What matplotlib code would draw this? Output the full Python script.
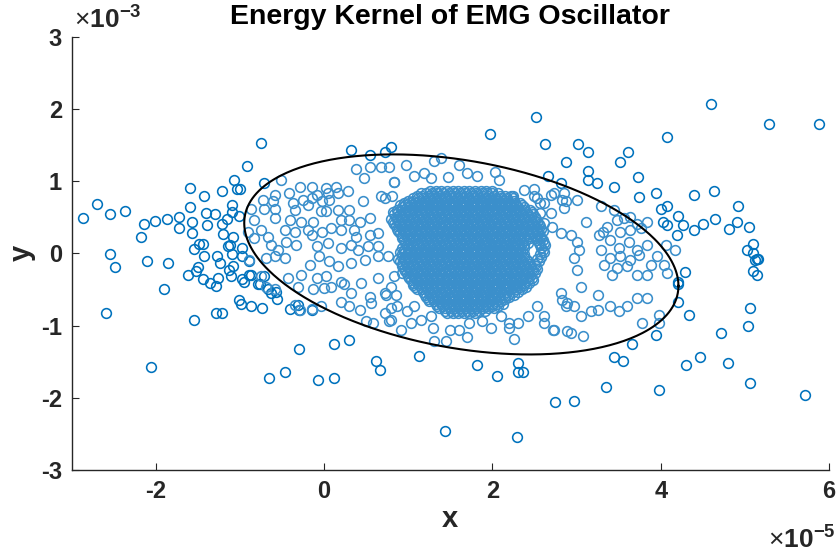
import numpy as np
import matplotlib
matplotlib.use("Agg")
import matplotlib.pyplot as plt

plt.rcParams['font.family'] = ['Liberation Sans', 'DejaVu Sans']
plt.rcParams['mathtext.fontset'] = 'custom'
plt.rcParams['mathtext.rm'] = 'Liberation Sans'
plt.rcParams['mathtext.bf'] = 'Liberation Sans:bold'

XS = 1e-5  # x unit
YS = 1e-3  # y unit

# ---- outlying points (dark blue), x in 1e-5, y in 1e-3 ----
outer_x = [-0.75, -0.92, -1.07, -0.72, -1.60, -1.43, -1.21, -1.04, -1.00, -2.70, -2.87, -2.55, -2.37, -2.14, -2.01,
           -1.87, -1.72, -1.72, -1.57, -1.57, -1.60, -1.40, -1.30, -1.39, -1.22, -1.16, -1.09, -1.09, -1.01, -1.20,
           -1.08, -2.18, -2.55, -2.48, -2.11, -1.86, -1.55, -1.49, -1.44, -1.43, -1.27, -1.24, -1.14, -1.12, -1.09,
           -0.98, -0.98, -0.89, -1.62, -1.52, -1.50, -1.44, -1.36, -1.28, -1.26, -1.13, -1.11, -1.08, -0.98, -0.95,
           -0.89, -0.87, -0.79, -0.76, -0.67, -0.63, -0.57, -0.56, -0.71, -1.90, -2.59, -1.55, -1.29, -1.22, -1.01,
           -0.99, -0.87, -0.74, -0.41, -0.31, -0.30, -0.15, -0.30, 0.12, -2.06, -0.66, -0.46, -0.07, 0.12, 0.29,
           0.62, 0.66, 1.13, 1.82, 2.05, 2.30, 2.30, 2.36, 2.74, 2.97, 1.44, 2.29,
           1.97, 2.52, 4.60, 5.29, 5.88, 0.32, 0.54, 0.72, 0.79, 2.62, 3.02, 3.14, 2.87, 3.13, 3.13, 3.24, 2.66,
           4.07, 3.61, 3.52, 3.73, 3.44, 3.74, 3.94, 4.39, 4.63, 4.92, 4.00, 4.08, 4.21, 4.03, 4.08, 4.27, 4.39,
           4.50, 4.65, 4.81, 4.91, 5.05, 4.19, 5.10, 5.03, 5.10, 5.14, 5.16, 5.12, 5.10, 5.14, 4.29, 4.21, 4.21,
           4.20, 4.34, 5.06, 5.04, 4.71, 3.66, 3.45, 3.55, 4.47, 4.30, 4.80, 5.06, 3.35, 3.98, 5.72, 2.81, 3.94]
outer_y = [1.53, 1.21, 1.01, 0.97, 0.91, 0.80, 0.86, 0.89, 0.89, 0.69, 0.49, 0.54, 0.59, 0.41, 0.45,
           0.47, 0.50, 0.35, 0.43, 0.28, 0.64, 0.56, 0.55, 0.39, 0.40, 0.47, 0.67, 0.57, 0.52, 0.27,
           0.22, 0.22, -0.01, -0.19, -0.10, -0.13, 0.06, 0.13, 0.13, -0.03, -0.03, -0.13, 0.10, 0.12, -0.01,
           0.07, -0.04, -0.11, -0.30, -0.25, -0.19, -0.35, -0.41, -0.45, -0.34, -0.23, -0.32, -0.17, -0.36, -0.40,
           -0.30, -0.30, -0.42, -0.42, -0.49, -0.55, -0.53, -0.63, -0.32, -0.49, -0.83, -0.92, -0.82, -0.83, -0.64,
           -0.70, -0.73, -0.76, -0.77, -0.71, -0.78, -0.78, -1.32, -1.26, -1.57, -1.72, -1.65, -1.75, -1.72, -1.20,
           -1.49, -1.61, -1.42, -1.55, -1.70, -1.52, -1.64, -1.64, -2.06, -2.05, -2.46, -2.55,
           1.65, 1.89, 2.07, 1.79, 1.79, 1.43, 1.36, 1.41, 1.47, 1.52, 1.52, 1.40, 1.27, 1.14, 1.01, 0.97, 1.07,
           1.61, 1.40, 1.26, 1.06, 0.92, 0.78, 0.83, 0.81, 0.87, 0.65, 0.61, 0.65, 0.52, 0.44, 0.39, 0.39, 0.32,
           0.41, 0.47, 0.34, 0.44, 0.36, 0.25, 0.13, 0.05, 0.00, -0.08, -0.08, -0.09, -0.24, -0.30, -0.26, -0.39, -0.42,
           -0.68, -0.85, -0.76, -1.01, -1.10, -1.26, -1.44, -1.49, -1.44, -1.55, -1.52, -1.79, -1.85, -1.89, -1.96, 0.98, -1.13]

# ---- scattered points inside the kernel ellipse (light blue) ----
inner_x = [-0.51, -0.29, -0.14, 0.02, 0.14, 0.28, 0.17, -0.42, -0.59, -0.08, 0.04, -0.15, -0.25, -0.87, -0.73,
           -0.61, -0.71, -0.59, -0.37, -0.35, -0.19, -0.02, 0.06, -0.04, 0.02, 0.16, 0.30, 0.46, 0.38, 0.47,
           0.54, 0.68, 0.77, 0.83, 0.68, 0.81,
           -0.83, -0.59, -0.41, -0.27, -0.13, 0.20, 0.30, 0.42, 0.54, -0.75, -0.67, -0.47, -0.35, -0.19, -0.15,
           -0.02, 0.08, 0.20, 0.36, 0.38, 0.54, 0.64, -0.91, -0.83,
           -0.63, -0.55, -0.45, -0.33, -0.09, 0.04, 0.20, 0.32, 0.40, 0.52, 0.64, -0.69, -0.59, -0.47, -0.17,
           -0.06, 0.06, 0.16, 0.32, 0.48, 0.64, 0.76, -0.89,
           -0.75, -0.43, -0.27, -0.08, 0.02, 0.20, 0.24, 0.44, 0.64, 0.83, -0.69, -0.59, -0.31, -0.13, 0.00,
           0.08, 0.32, 0.54, 0.72, 0.79,
           -0.35, -0.29, -0.15, -0.04, 0.20, 0.30, 0.42, 0.56, 0.72, 0.87, 0.50, 0.58, 0.79,
           2.85, 2.69, 2.87, 3.01, 2.85, 3.11, 3.29, 3.44, 3.31, 3.27, 3.36, 3.48, 3.56, 3.64, 3.72, 3.84, 3.52,
           3.64, 3.76, 3.40, 3.29, 3.50, 3.62, 3.72, 3.84, 3.40, 3.52, 3.64, 3.74, 3.96, 3.88, 4.04, 3.32, 3.48,
           3.60, 3.72, 3.84, 3.42, 4.08, 3.05, 3.25, 3.40, 3.50, 3.60, 3.72, 3.84, 3.25, 3.17, 2.97, 3.05, 2.93,
           3.07, 2.73, 2.61, 2.89, 2.81, 3.01, 2.97, 3.03, 3.01, 2.93, 2.81, 2.71, 2.61, 2.57, 2.69, 2.57, 2.49,
           4.06, 4.17, 3.98, 3.98, 3.78,
           0.97, 1.07, 1.31, 1.39, 1.60, 1.70, 1.82, 2.03, 2.08, 0.83, 1.19, 1.27, 1.47, 2.38, 2.49, 2.73, 2.83,
           2.53, 2.61, 2.24, 0.72,
           0.74, 0.85, 0.79, 0.77, 0.91, 0.99, 1.07, 1.03, 1.15, 1.27, 1.29, 1.49, 1.31, 1.45, 1.60, 1.72, 1.70,
           1.88, 1.98, 2.10, 2.20, 2.20, 2.26, 2.42, 2.53, 2.61, 2.72, 2.89, 2.83, 2.87, 2.30]
inner_y = [1.02, 0.92, 0.92, 0.90, 0.92, 0.87, 0.84, 0.83, 0.81, 0.81, 0.84, 0.76, 0.74, 0.61, 0.74,
           0.72, 0.61, 0.61, 0.70, 0.60, 0.67, 0.72, 0.74, 0.58, 0.58, 0.60, 0.60, 0.72, 1.17, 1.04,
           1.20, 1.20, 1.20, 0.99, 0.79, 0.79,
           0.46, 0.49, 0.46, 0.44, 0.44, 0.46, 0.46, 0.44, 0.49, 0.33, 0.23, 0.33, 0.30, 0.33, 0.26,
           0.30, 0.35, 0.33, 0.33, 0.23, 0.26, 0.28, 0.30, 0.21,
           0.12, 0.05, 0.16, 0.12, 0.10, 0.14, 0.07, 0.12, 0.05, 0.10, 0.10, -0.07, -0.04, -0.07, -0.16,
           -0.04, -0.11, -0.18, -0.13, -0.09, -0.04, -0.04, -0.09,
           -0.32, -0.34, -0.30, -0.34, -0.32, -0.39, -0.43, -0.41, -0.34, -0.32, -0.46, -0.50, -0.46, -0.50, -0.48,
           -0.46, -0.55, -0.60, -0.55, -0.46,
           -0.71, -0.78, -0.77, -0.73, -0.67, -0.73, -0.78, -0.69, -0.83, -0.73, -0.94, -0.96, -0.92,
           0.83, 0.81, 0.72, 0.74, 0.63, 0.44, 0.65, 0.60, 0.30, 0.26, 0.37, 0.46, 0.49, 0.51, 0.40, 0.44, 0.30,
           0.33, 0.35, 0.19, 0.05, 0.07, 0.16, 0.05, 0.12, -0.07, -0.04, -0.09, -0.02, -0.04, -0.16, -0.16, -0.16, -0.20,
           -0.18, -0.30, -0.30, -0.30, -0.27, -0.46, -0.57, -0.73, -0.80, -0.73, -0.62, -0.62, -0.78, -0.80, -0.73, -0.87, -1.10,
           -1.15, -1.06, -0.96, -0.69, -0.55, -0.23, -0.07, 0.05, 0.16, 0.26, 0.28, 0.37, 0.42, 0.56, 0.56, 0.70, 0.79,
           0.11, 0.04, -0.86, -0.96, -0.96,
           1.23, 1.07, 1.28, 1.32, 1.23, 1.11, 1.07, 1.13, 1.02, 0.99, 1.11, 1.04, 1.06, 0.88, 0.89, 0.83, 0.74,
           0.76, 0.70, 0.80, 0.76,
           -0.57, -0.57, -0.76, -0.94, -1.06, -0.80, -0.73, -0.96, -0.92, -0.87, -1.03, -1.06, -1.22, -1.22, -1.06, -0.96, -1.16,
           -0.94, -1.03, -0.87, -0.96, -1.03, -1.19, -0.87, -0.73, -0.87, -1.06, -1.08, -0.64, -0.73, -0.96]

# ---- dense core of the kernel: rows of (y, x values) ----
core_rows = [
    (0.86, [1.26, 1.33, 1.39, 1.46, 1.53, 1.59, 1.66, 1.72, 1.79, 1.86, 1.92, 1.99]),
    (0.83, [1.15, 1.21, 1.28, 1.34, 1.41, 1.48, 1.54, 1.61, 1.67, 1.74, 1.81, 1.87, 1.94, 2.00, 2.07]),
    (0.80, [1.10, 1.16, 1.23, 1.29, 1.36, 1.43, 1.49, 1.56, 1.62, 1.69, 1.76, 1.82, 1.89, 1.95, 2.02, 2.09, 2.15, 2.22]),
    (0.765, [1.05, 1.11, 1.18, 1.25, 1.31, 1.38, 1.44, 1.51, 1.58, 1.64, 1.71, 1.77, 1.84, 1.91, 1.97, 2.04, 2.10, 2.17, 2.24]),
    (0.73, [1.00, 1.06, 1.13, 1.20, 1.26, 1.33, 1.39, 1.46, 1.53, 1.59, 1.66, 1.72, 1.79, 1.86, 1.92, 1.99, 2.05, 2.12, 2.19, 2.25]),
    (0.70, [0.95, 1.01, 1.08, 1.15, 1.21, 1.28, 1.34, 1.41, 1.48, 1.54, 1.61, 1.67, 1.74, 1.81, 1.87, 1.94, 2.00, 2.07, 2.14, 2.20, 2.27, 2.33]),
    (0.67, [0.90, 0.96, 1.03, 1.10, 1.16, 1.23, 1.29, 1.36, 1.43, 1.49, 1.56, 1.62, 1.69, 1.76, 1.82, 1.89, 1.95, 2.02, 2.09, 2.15, 2.22, 2.28, 2.35]),
    (0.635, [0.92, 0.98, 1.05, 1.11, 1.18, 1.25, 1.31, 1.38, 1.44, 1.51, 1.58, 1.64, 1.71, 1.77, 1.84, 1.91, 1.97, 2.04, 2.10, 2.17, 2.24, 2.30, 2.37]),
    (0.60, [0.87, 0.93, 1.00, 1.06, 1.13, 1.20, 1.26, 1.33, 1.39, 1.46, 1.53, 1.59, 1.66, 1.72, 1.79, 1.86, 1.92, 1.99, 2.05, 2.12, 2.19, 2.25, 2.32, 2.38, 2.45]),
    (0.57, [0.82, 0.88, 0.95, 1.01, 1.08, 1.15, 1.21, 1.28, 1.34, 1.41, 1.48, 1.54, 1.61, 1.67, 1.74, 1.81, 1.87, 1.94, 2.00, 2.07, 2.14, 2.20, 2.27, 2.33, 2.40, 2.47]),
    (0.54, [0.83, 0.90, 0.96, 1.03, 1.10, 1.16, 1.23, 1.29, 1.36, 1.43, 1.49, 1.56, 1.62, 1.69, 1.76, 1.82, 1.89, 1.95, 2.02, 2.09, 2.15, 2.22, 2.28, 2.35, 2.42, 2.48]),
    (0.505, [0.85, 0.92, 0.98, 1.05, 1.11, 1.18, 1.25, 1.31, 1.38, 1.44, 1.51, 1.58, 1.64, 1.71, 1.77, 1.84, 1.91, 1.97, 2.04, 2.10, 2.17, 2.24, 2.30, 2.37, 2.43, 2.50]),
    (0.47, [0.80, 0.87, 0.93, 1.00, 1.06, 1.13, 1.20, 1.26, 1.33, 1.39, 1.46, 1.53, 1.59, 1.66, 1.72, 1.79, 1.86, 1.92, 1.99, 2.05, 2.12, 2.19, 2.25, 2.32, 2.38, 2.45, 2.52]),
    (0.44, [0.82, 0.88, 0.95, 1.01, 1.08, 1.15, 1.21, 1.28, 1.34, 1.41, 1.48, 1.54, 1.61, 1.67, 1.74, 1.81, 1.87, 1.94, 2.00, 2.07, 2.14, 2.20, 2.27, 2.33, 2.40, 2.47, 2.53]),
    (0.41, [0.83, 0.90, 0.96, 1.03, 1.10, 1.16, 1.23, 1.29, 1.36, 1.43, 1.49, 1.56, 1.62, 1.69, 1.76, 1.82, 1.89, 1.95, 2.02, 2.09, 2.15, 2.22, 2.28, 2.35, 2.42, 2.48, 2.55]),
    (0.375, [0.85, 0.92, 0.98, 1.05, 1.11, 1.18, 1.25, 1.31, 1.38, 1.44, 1.51, 1.58, 1.64, 1.71, 1.77, 1.84, 1.91, 1.97, 2.04, 2.10, 2.17, 2.24, 2.30, 2.37, 2.43, 2.50, 2.57]),
    (0.34, [0.87, 0.93, 1.00, 1.06, 1.13, 1.20, 1.26, 1.33, 1.39, 1.46, 1.53, 1.59, 1.66, 1.72, 1.79, 1.86, 1.92, 1.99, 2.05, 2.12, 2.19, 2.25, 2.32, 2.38, 2.45, 2.52, 2.58]),
    (0.31, [0.88, 0.95, 1.01, 1.08, 1.15, 1.21, 1.28, 1.34, 1.41, 1.48, 1.54, 1.61, 1.67, 1.74, 1.81, 1.87, 1.94, 2.00, 2.07, 2.14, 2.20, 2.27, 2.33, 2.40, 2.47, 2.53, 2.60]),
    (0.28, [0.90, 0.96, 1.03, 1.10, 1.16, 1.23, 1.29, 1.36, 1.43, 1.49, 1.56, 1.62, 1.69, 1.76, 1.82, 1.89, 1.95, 2.02, 2.09, 2.15, 2.22, 2.28, 2.35, 2.42, 2.48, 2.55]),
    (0.245, [0.92, 0.98, 1.05, 1.11, 1.18, 1.25, 1.31, 1.38, 1.44, 1.51, 1.58, 1.64, 1.71, 1.77, 1.84, 1.91, 1.97, 2.04, 2.10, 2.17, 2.24, 2.30, 2.37, 2.43, 2.50, 2.57]),
    (0.21, [0.93, 1.00, 1.06, 1.13, 1.20, 1.26, 1.33, 1.39, 1.46, 1.53, 1.59, 1.66, 1.72, 1.79, 1.86, 1.92, 1.99, 2.05, 2.12, 2.19, 2.25, 2.32, 2.38, 2.45, 2.52, 2.58]),
    (0.18, [0.95, 1.01, 1.08, 1.15, 1.21, 1.28, 1.34, 1.41, 1.48, 1.54, 1.61, 1.67, 1.74, 1.81, 1.87, 1.94, 2.00, 2.07, 2.14, 2.20, 2.27, 2.33, 2.40, 2.53, 2.60]),
    (0.15, [0.96, 1.03, 1.10, 1.16, 1.23, 1.29, 1.36, 1.43, 1.49, 1.56, 1.62, 1.69, 1.76, 1.82, 1.89, 1.95, 2.02, 2.09, 2.15, 2.22, 2.28, 2.35, 2.42, 2.55, 2.61]),
    (0.115, [0.98, 1.05, 1.11, 1.18, 1.25, 1.31, 1.38, 1.44, 1.51, 1.58, 1.64, 1.71, 1.77, 1.84, 1.91, 1.97, 2.04, 2.10, 2.17, 2.24, 2.30, 2.37, 2.57, 2.63]),
    (0.08, [0.93, 1.00, 1.06, 1.13, 1.20, 1.26, 1.33, 1.39, 1.46, 1.53, 1.59, 1.66, 1.72, 1.79, 1.86, 1.92, 1.99, 2.05, 2.12, 2.19, 2.25, 2.32, 2.38, 2.58]),
    (0.05, [0.95, 1.01, 1.08, 1.15, 1.21, 1.28, 1.34, 1.41, 1.48, 1.54, 1.61, 1.67, 1.74, 1.81, 1.87, 1.94, 2.00, 2.07, 2.14, 2.20, 2.27, 2.33, 2.60]),
    (0.02, [0.90, 0.96, 1.03, 1.10, 1.16, 1.23, 1.29, 1.36, 1.43, 1.49, 1.56, 1.62, 1.69, 1.76, 1.82, 1.89, 1.95, 2.02, 2.09, 2.15, 2.22, 2.28, 2.35, 2.61]),
    (-0.015, [0.92, 0.98, 1.05, 1.11, 1.18, 1.25, 1.31, 1.38, 1.44, 1.51, 1.58, 1.64, 1.71, 1.77, 1.84, 1.91, 1.97, 2.04, 2.10, 2.17, 2.24, 2.30, 2.37, 2.57]),
    (-0.05, [0.93, 1.00, 1.06, 1.13, 1.20, 1.26, 1.33, 1.39, 1.46, 1.53, 1.59, 1.66, 1.72, 1.79, 1.86, 1.92, 1.99, 2.05, 2.12, 2.19, 2.25, 2.32, 2.38, 2.58]),
    (-0.08, [0.88, 0.95, 1.01, 1.08, 1.15, 1.21, 1.28, 1.34, 1.41, 1.48, 1.54, 1.61, 1.67, 1.74, 1.81, 1.87, 1.94, 2.00, 2.07, 2.14, 2.20, 2.27, 2.33, 2.40, 2.53]),
    (-0.11, [0.90, 0.96, 1.03, 1.10, 1.16, 1.23, 1.29, 1.36, 1.43, 1.49, 1.56, 1.62, 1.69, 1.76, 1.82, 1.89, 1.95, 2.02, 2.09, 2.15, 2.22, 2.28, 2.35, 2.42, 2.55]),
    (-0.145, [0.92, 0.98, 1.05, 1.11, 1.18, 1.25, 1.31, 1.38, 1.44, 1.51, 1.58, 1.64, 1.71, 1.77, 1.84, 1.91, 1.97, 2.04, 2.10, 2.17, 2.24, 2.30, 2.37, 2.43, 2.50]),
    (-0.18, [0.93, 1.00, 1.06, 1.13, 1.20, 1.26, 1.33, 1.39, 1.46, 1.53, 1.59, 1.66, 1.72, 1.79, 1.86, 1.92, 1.99, 2.05, 2.12, 2.19, 2.25, 2.32, 2.38, 2.45, 2.52]),
    (-0.21, [0.95, 1.01, 1.08, 1.15, 1.21, 1.28, 1.34, 1.41, 1.48, 1.54, 1.61, 1.67, 1.74, 1.81, 1.87, 1.94, 2.00, 2.07, 2.14, 2.20, 2.27, 2.33, 2.40, 2.47, 2.53]),
    (-0.24, [0.96, 1.03, 1.10, 1.16, 1.23, 1.29, 1.36, 1.43, 1.49, 1.56, 1.62, 1.69, 1.76, 1.82, 1.89, 1.95, 2.02, 2.09, 2.15, 2.22, 2.28, 2.35, 2.42, 2.48]),
    (-0.275, [0.92, 0.98, 1.05, 1.11, 1.18, 1.25, 1.31, 1.38, 1.44, 1.51, 1.58, 1.64, 1.71, 1.77, 1.84, 1.91, 1.97, 2.04, 2.10, 2.17, 2.24, 2.30, 2.37, 2.43, 2.50]),
    (-0.31, [1.00, 1.06, 1.13, 1.20, 1.26, 1.33, 1.39, 1.46, 1.53, 1.59, 1.66, 1.72, 1.79, 1.86, 1.92, 1.99, 2.05, 2.12, 2.19, 2.25, 2.32, 2.38, 2.45]),
    (-0.34, [1.01, 1.08, 1.15, 1.21, 1.28, 1.34, 1.41, 1.48, 1.54, 1.61, 1.67, 1.74, 1.81, 1.87, 1.94, 2.00, 2.07, 2.14, 2.20, 2.27, 2.33, 2.40, 2.47]),
    (-0.37, [1.03, 1.10, 1.16, 1.23, 1.29, 1.36, 1.43, 1.49, 1.56, 1.62, 1.69, 1.76, 1.82, 1.89, 1.95, 2.02, 2.09, 2.15, 2.22, 2.28, 2.35, 2.42, 2.48]),
    (-0.405, [1.05, 1.11, 1.18, 1.25, 1.31, 1.38, 1.44, 1.51, 1.58, 1.64, 1.71, 1.77, 1.84, 1.91, 1.97, 2.04, 2.10, 2.17, 2.24, 2.30, 2.37, 2.43]),
    (-0.44, [1.06, 1.13, 1.20, 1.26, 1.33, 1.39, 1.46, 1.53, 1.59, 1.66, 1.72, 1.79, 1.86, 1.92, 1.99, 2.05, 2.12, 2.19, 2.25, 2.32, 2.38]),
    (-0.47, [1.08, 1.15, 1.21, 1.28, 1.34, 1.41, 1.48, 1.54, 1.61, 1.67, 1.74, 1.81, 1.87, 1.94, 2.00, 2.07, 2.14, 2.20, 2.27, 2.33, 2.40]),
    (-0.50, [1.10, 1.16, 1.23, 1.29, 1.36, 1.43, 1.49, 1.56, 1.62, 1.69, 1.76, 1.82, 1.89, 1.95, 2.02, 2.09, 2.15, 2.22, 2.28, 2.35]),
    (-0.535, [1.18, 1.25, 1.31, 1.38, 1.44, 1.51, 1.58, 1.64, 1.71, 1.77, 1.84, 1.91, 1.97, 2.04, 2.10, 2.17, 2.24, 2.30]),
    (-0.57, [1.20, 1.26, 1.33, 1.39, 1.46, 1.53, 1.59, 1.66, 1.72, 1.79, 1.86, 1.92, 1.99, 2.05, 2.12, 2.19, 2.25]),
    (-0.60, [1.21, 1.28, 1.34, 1.41, 1.48, 1.54, 1.61, 1.67, 1.74, 1.81, 1.87, 1.94, 2.00, 2.07, 2.14, 2.20]),
    (-0.63, [1.23, 1.29, 1.36, 1.43, 1.49, 1.56, 1.62, 1.69, 1.76, 1.82, 1.89, 1.95, 2.02, 2.09, 2.15]),
    (-0.665, [1.25, 1.31, 1.38, 1.44, 1.51, 1.58, 1.64, 1.71, 1.77, 1.84, 1.91, 1.97, 2.04, 2.10]),
    (-0.70, [1.33, 1.39, 1.46, 1.53, 1.59, 1.66, 1.72, 1.79, 1.86, 1.92, 1.99, 2.05, 2.12]),
    (-0.73, [1.34, 1.41, 1.48, 1.54, 1.61, 1.67, 1.74, 1.81, 1.87, 1.94, 2.00, 2.07]),
    (-0.76, [1.36, 1.43, 1.49, 1.56, 1.62, 1.69, 1.76, 1.82, 1.89, 1.95, 2.02]),
    (-0.795, [1.44, 1.51, 1.58, 1.64, 1.71, 1.77, 1.84, 1.91]),
    (-0.83, [1.46, 1.53, 1.59, 1.66, 1.72, 1.79]),
]

# ---- kernel ellipse (x in 1e-5, y in 1e-3) ----
ell_center = (1.63, -0.015)
ell_a = 2.58      # x half-extent
ell_b = 1.315     # y amplitude on sin
ell_c = -0.435    # tilt term on cos

title = "Energy Kernel of EMG Oscillator"
xticks = [-2, 0, 2, 4, 6]
yticks = [-3, -2, -1, 0, 1, 2, 3]

core_x, core_y = [], []
for yv, xs in core_rows:
    core_x += xs
    core_y += [yv] * len(xs)

fig = plt.figure(figsize=(8.36, 5.56), dpi=100)
ax = fig.add_axes([0.0858, 0.1547, 0.9059, 0.7793])

dark = '#0072BD'
light = '#3B8FCB'
ms, mew = 7.0, 1.15
ax.plot(np.array(outer_x) * XS, np.array(outer_y) * YS, 'o', mfc='none', mec=dark, ms=ms, mew=mew, zorder=2)
ax.plot(np.array(inner_x) * XS, np.array(inner_y) * YS, 'o', mfc='none', mec=light, ms=ms, mew=mew, zorder=3)
ax.plot(np.array(core_x) * XS, np.array(core_y) * YS, 'o', mfc='none', mec=light, ms=ms, mew=mew, zorder=3)

t = np.linspace(0, 2 * np.pi, 400)
ex = (ell_center[0] + ell_a * np.cos(t)) * XS
ey = (ell_center[1] + ell_b * np.sin(t) + ell_c * np.cos(t)) * YS
ax.plot(ex, ey, color='black', lw=1.5, zorder=4)

ax.set_xlim(-3 * XS, 6 * XS)
ax.set_ylim(-3 * YS, 3 * YS)
ax.set_xticks([v * XS for v in xticks])
ax.set_xticklabels([str(v) for v in xticks])
ax.set_yticks([v * YS for v in yticks])
ax.set_yticklabels([str(v) for v in yticks])
ax.spines['top'].set_visible(False)
ax.spines['right'].set_visible(False)
for s in ('left', 'bottom'):
    ax.spines[s].set_linewidth(1.0)
    ax.spines[s].set_color('#262626')
ax.tick_params(direction='in', length=5, width=0.8, colors='#262626', labelsize=17, pad=7)
for lab in ax.get_xticklabels() + ax.get_yticklabels():
    lab.set_fontweight('bold')
    lab.set_color('#262626')

ax.set_title(title, fontsize=20.5, fontweight='bold', pad=9)
ax.set_xlabel('x', fontsize=21, fontweight='bold', color='#262626', labelpad=2)
ax.set_ylabel('y', fontsize=21, fontweight='bold', color='#262626', labelpad=4)

ax.text(0.003, 1.010, r'$\times\mathbf{10}^{\mathbf{-3}}$', transform=ax.transAxes,
        ha='left', va='bottom', fontsize=19, color='#262626')
ax.text(1.008, -0.180, r'$\times\mathbf{10}^{\mathbf{-5}}$', transform=ax.transAxes,
        ha='right', va='baseline', fontsize=19, color='#262626')

fig.savefig('out.png', dpi=100)
